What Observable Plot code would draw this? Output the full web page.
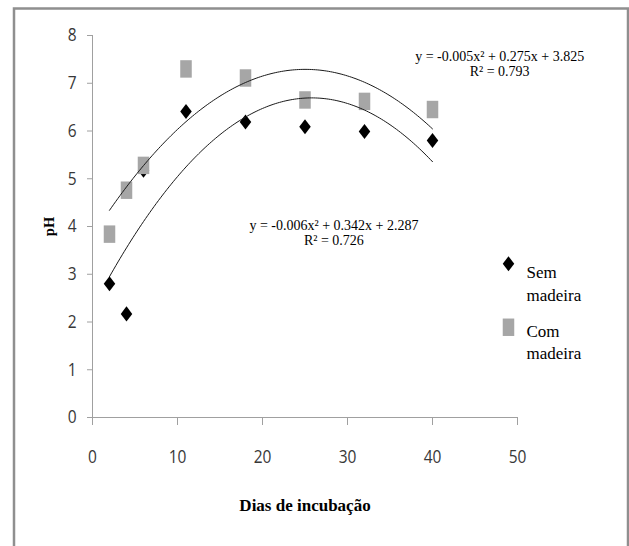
<!DOCTYPE html>
<html>
<head>
<meta charset="utf-8">
<script src="https://cdn.jsdelivr.net/npm/d3@7"></script>
<script src="https://cdn.jsdelivr.net/npm/@observablehq/plot@0.6"></script>
<style>
  html, body { margin: 0; padding: 0; background: #fff; }
  #chart svg { display: block; }
</style>
</head>
<body>
<div id="chart"></div>
<script>
// ---- data ----
const days = [2, 4, 6, 11, 18, 25, 32, 40];
const semMadeira = [2.8, 2.17, 5.18, 6.41, 6.19, 6.09, 5.99, 5.8];
const comMadeira = [3.84, 4.76, 5.28, 7.3, 7.11, 6.65, 6.62, 6.45];
const seriesNames = ["Sem\nmadeira", "Com\nmadeira"];
const equationSem = "y = -0.006x² + 0.342x + 2.287\nR² = 0.726";
const equationCom = "y = -0.005x² + 0.275x + 3.825\nR² = 0.793";
const xTicks = [0, 10, 20, 30, 40, 50];
const yTicks = [0, 1, 2, 3, 4, 5, 6, 7, 8];
const xLabel = "Dias de incubação";
const yLabel = "pH";

// ---- tables ----
const semPoints = days.map((d, i) => ({ day: d, pH: semMadeira[i] }));
const comPoints = days.map((d, i) => ({ day: d, pH: comMadeira[i] }));

// least-squares quadratic trendline (as the spreadsheet does)
function quadFit(xs, ys) {
  const S = [0, 0, 0, 0, 0], T = [0, 0, 0];
  xs.forEach((x, i) => {
    for (let k = 0; k < 5; k++) S[k] += x ** k;
    for (let k = 0; k < 3; k++) T[k] += ys[i] * x ** k;
  });
  const M = [
    [S[0], S[1], S[2], T[0]],
    [S[1], S[2], S[3], T[1]],
    [S[2], S[3], S[4], T[2]]
  ];
  for (let c = 0; c < 3; c++) {
    let p = c;
    for (let r = c + 1; r < 3; r++) if (Math.abs(M[r][c]) > Math.abs(M[p][c])) p = r;
    [M[c], M[p]] = [M[p], M[c]];
    for (let r = 0; r < 3; r++) {
      if (r === c) continue;
      const f = M[r][c] / M[c][c];
      for (let k = c; k < 4; k++) M[r][k] -= f * M[c][k];
    }
  }
  const c0 = M[0][3] / M[0][0], c1 = M[1][3] / M[1][1], c2 = M[2][3] / M[2][2];
  return x => c0 + c1 * x + c2 * x * x;
}
const fSem = quadFit(days, semMadeira);
const fCom = quadFit(days, comMadeira);
const xs = d3.range(d3.min(days), d3.max(days) + 0.001, 0.25);
const curveSem = xs.map(x => ({ day: x, pH: fSem(x) }));
const curveCom = xs.map(x => ({ day: x, pH: fCom(x) }));

// custom (stretched) marker shapes
const diamondSym = { draw(ctx, size) {
  const r = Math.sqrt(size / Math.PI), w = r * 0.72, h = r * 0.94;
  ctx.moveTo(0, -h); ctx.lineTo(w, 0); ctx.lineTo(0, h); ctx.lineTo(-w, 0); ctx.closePath();
}};
const rectSym = { draw(ctx, size) {
  const r = Math.sqrt(size / Math.PI), w = r * 0.72, h = r * 1.09;
  ctx.rect(-w, -h, 2 * w, 2 * h);
}};

const serif = "'Liberation Serif', 'Times New Roman', serif";
const sans = "'Open Sans', 'Liberation Sans', sans-serif";
const gray = "#a6a6a6";

const chart = Plot.plot({
  width: 629,
  height: 546,
  marginLeft: 92,
  marginRight: 112,
  marginTop: 35,
  marginBottom: 129,
  style: { background: "#fff" },
  x: { domain: [0, 50] },
  y: { domain: [0, 8] },
  marks: [
    Plot.frame({ stroke: "#8f8f8f", strokeWidth: 2.5, insetLeft: -78.5, insetTop: -27, insetRight: -110.5, insetBottom: -160 }),
    Plot.ruleY([0], { stroke: "#a0a0a0" }),
    Plot.ruleX([0], { stroke: "#a0a0a0" }),
    Plot.axisX({ ticks: xTicks, tickSize: 8, tickPadding: 25, stroke: "#a0a0a0", fill: "#383838",
      fontSize: 15.5, fontFamily: sans, label: null, tickFormat: d => String(d) }),
    Plot.axisY({ ticks: yTicks, tickSize: 5, tickPadding: 11, stroke: "#a0a0a0", fill: "#383838",
      fontSize: 15.5, fontFamily: sans, label: null, tickFormat: d => String(d) }),
    Plot.dot(semPoints, { x: "day", y: "pH", symbol: diamondSym, r: 8, fill: "#000", stroke: "none" }),
    Plot.dot(comPoints, { x: "day", y: "pH", symbol: rectSym, r: 8, fill: gray, stroke: "none" }),
    Plot.line(curveCom, { x: "day", y: "pH", stroke: "#1a1a1a", strokeWidth: 1 }),
    Plot.line(curveSem, { x: "day", y: "pH", stroke: "#1a1a1a", strokeWidth: 1 }),
    Plot.text([equationCom], { x: 47.9, y: 7.4, text: d => d, fontFamily: serif, fontSize: 14,
      lineHeight: 1.07, fill: "#000", ariaLabel: "eq" }),
    Plot.text([equationSem], { x: 28.4, y: 3.86, text: d => d, fontFamily: serif, fontSize: 14,
      lineHeight: 1.07, fill: "#000", ariaLabel: "eq" }),
    // legend
    Plot.dot([seriesNames[0]], { x: 48.94, y: 3.22, symbol: diamondSym, r: 8, fill: "#000", stroke: "none" }),
    Plot.dot([seriesNames[1]], { x: 48.94, y: 1.89, symbol: rectSym, r: 8, fill: gray, stroke: "none" }),
    Plot.text([seriesNames[0]], { x: 51.06, y: 2.83, text: d => d, textAnchor: "start", fontFamily: serif,
      fontSize: 17, lineHeight: 1.32, fill: "#000", ariaLabel: "legend" }),
    Plot.text([seriesNames[1]], { x: 51.06, y: 1.61, text: d => d, textAnchor: "start", fontFamily: serif,
      fontSize: 17, lineHeight: 1.32, fill: "#000", ariaLabel: "legend" }),
    // axis titles
    Plot.text([xLabel], { frameAnchor: "bottom", dy: 88, textAnchor: "middle", lineAnchor: "middle",
      fontFamily: serif, fontWeight: "bold", fontSize: 17, fill: "#000", ariaLabel: "xlabel" }),
    Plot.text([yLabel], { frameAnchor: "left", dx: -43.5, rotate: -90, textAnchor: "middle", lineAnchor: "middle",
      fontFamily: serif, fontWeight: "bold", fontSize: 14.5, fill: "#000", ariaLabel: "ylabel" })
  ]
});

// stretch glyphs the way the reference picture is stretched
function stretch(selector, sx, sy) {
  const num = v => (v != null && /^-?[\d.]+$/.test(v.trim())) ? +v : 0;
  chart.querySelectorAll(selector).forEach(t => {
    const tr = t.getAttribute("transform") || "";
    const x = num(t.getAttribute("x")), y = num(t.getAttribute("y"));
    t.setAttribute("transform", `${tr} translate(${x},${y}) scale(${sx},${sy}) translate(${-x},${-y})`);
  });
}
stretch('g[aria-label="x-axis tick label"] text', 1, 1.18);
stretch('g[aria-label="y-axis tick label"] text', 1, 1.18);
stretch('g[aria-label="eq"] text', 1, 1.4);
stretch('g[aria-label="legend"] text', 1, 1.27);
stretch('g[aria-label="xlabel"] text', 1, 1.4);
stretch('g[aria-label="ylabel"] text', 1.8, 1);

document.getElementById("chart").appendChild(chart);
</script>
</body>
</html>
